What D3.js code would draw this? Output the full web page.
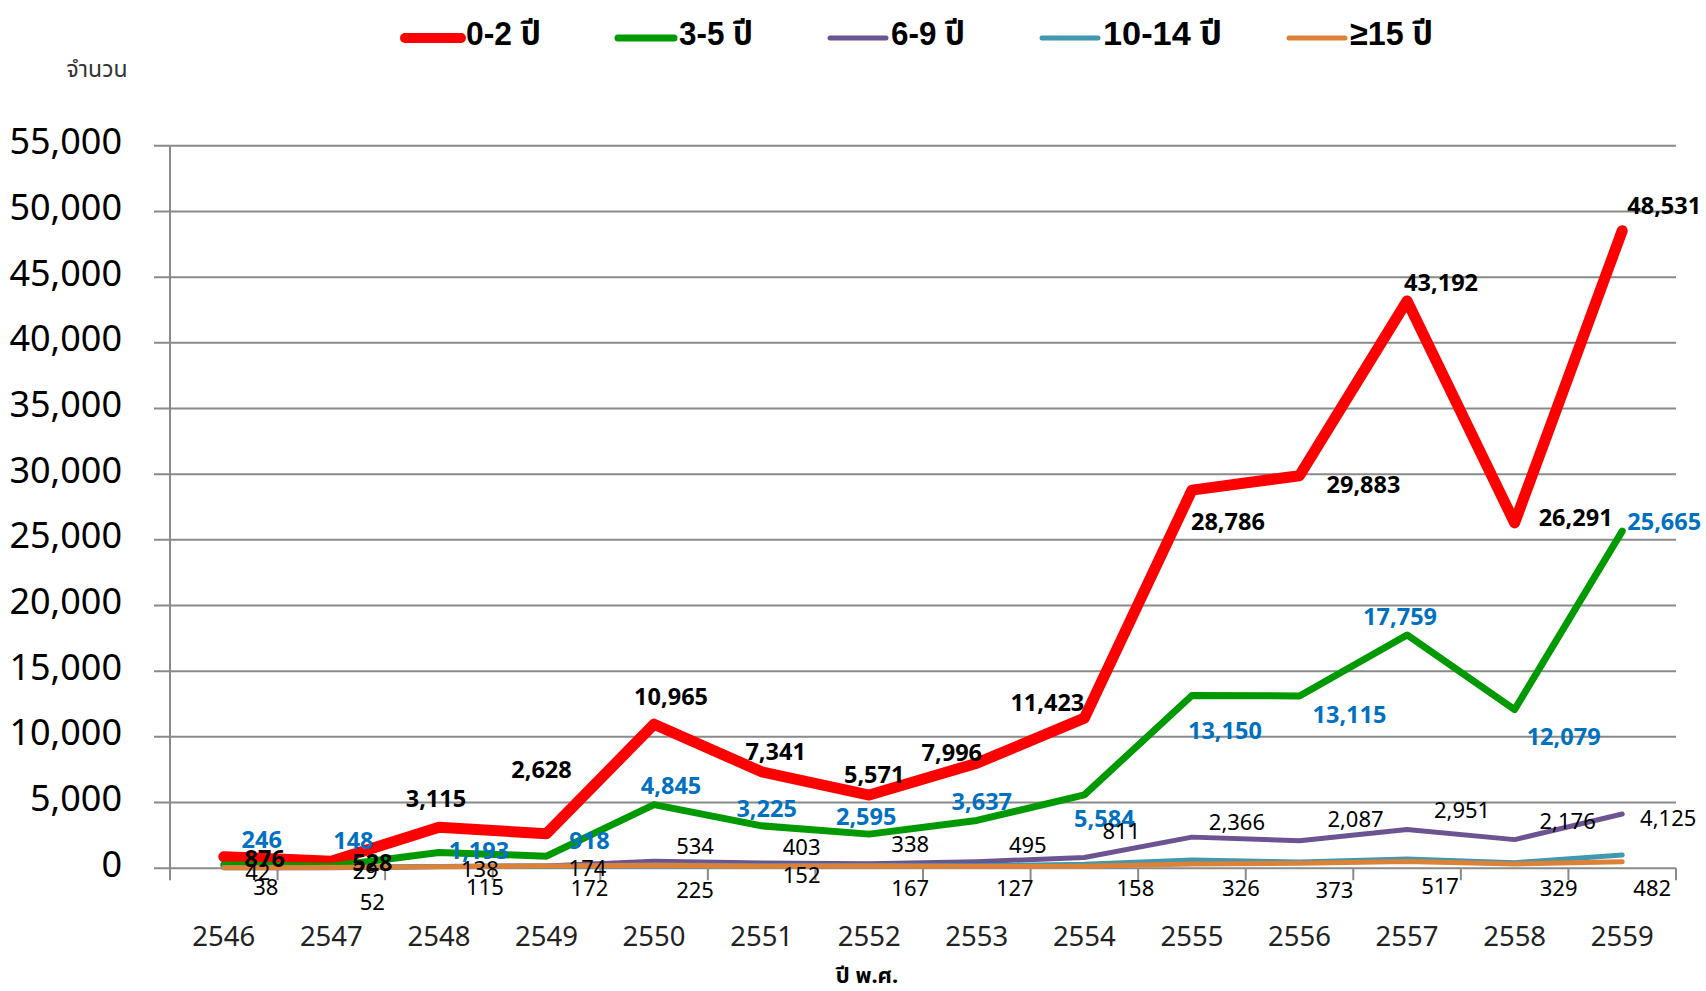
<!DOCTYPE html>
<html>
<head>
<meta charset="utf-8">
<script src="https://cdn.jsdelivr.net/npm/d3@7"></script>
<style>
  html, body { margin: 0; padding: 0; background: #fff; }
  svg { display: block; }
</style>
</head>
<body>
<svg id="chart" width="1706" height="991"></svg>
<script>
// ---- data ----
const years = ['2546','2547','2548','2549','2550','2551','2552','2553','2554','2555','2556','2557','2558','2559'];
const seriesNames = ['0-2 ปี', '3-5 ปี', '6-9 ปี', '10-14 ปี', '≥15 ปี'];
const age0to2   = [876, 528, 3115, 2628, 10965, 7341, 5571, 7996, 11423, 28786, 29883, 43192, 26291, 48531];
const age3to5   = [246, 148, 1193, 918, 4845, 3225, 2595, 3637, 5584, 13150, 13115, 17759, 12079, 25665];
const age6to9   = [42, 29, 138, 174, 534, 403, 338, 495, 811, 2366, 2087, 2951, 2176, 4125];
const age10to14 = [60, 50, 120, 150, 250, 180, 200, 180, 300, 620, 480, 700, 420, 1000];
const age15plus = [38, 52, 115, 172, 225, 152, 167, 127, 158, 326, 373, 517, 329, 482];
const yTicks = [0, 5000, 10000, 15000, 20000, 25000, 30000, 35000, 40000, 45000, 50000, 55000];
const yAxisTitle = 'จำนวน';
const xAxisTitle = 'ปี พ.ศ.';

// label nudges (px, relative to the data point)
const nudge0to2 = [[41,2],[41,2],[-3,-29],[-5,-64],[17,-27],[14,-20],[5,-20],[-25,-10],[-37,-15],[36,32],[64,9],[34,-18],[61,-5],[42,-25]];
const nudge3to5 = [[38,-25],[22,-25],[40,-2],[43,-15],[17,-19],[5,-17],[-3,-17],[5,-19],[20,24],[33,35],[50,19],[-7,-18],[49,27],[42,-9]];
const nudge6to9 = [[34,5],[34,3],[41,3],[41,2],[41,-15],[40,-16],[41,-19],[51,-16],[37,-26],[45,-15],[56,-21],[55,-19],[53,-18],[46,4]];
const nudge15 = [[42,20],[41,35],[46,21],[43,22],[41,25],[40,9],[41,22],[38,22],[51,22],[49,24],[35,27],[33,25],[44,24],[30,26]];

const colors = ['#FF0000', '#009A00', '#6C5493', '#4198AF', '#DC8238'];
const widths = [11, 7, 5, 5, 5];

const series = [
  { name: seriesNames[0], values: age0to2, color: colors[0], w: widths[0], labels: { nudge: nudge0to2, fill: '#000', weight: 'bold', size: 23.5 } },
  { name: seriesNames[1], values: age3to5, color: colors[1], w: widths[1], labels: { nudge: nudge3to5, fill: '#0070C0', weight: 'bold', size: 23.5 } },
  { name: seriesNames[2], values: age6to9, color: colors[2], w: widths[2], labels: { nudge: nudge6to9, fill: '#000', weight: 'normal', size: 22 } },
  { name: seriesNames[3], values: age10to14, color: colors[3], w: widths[3], labels: null },
  { name: seriesNames[4], values: age15plus, color: colors[4], w: widths[4], labels: { nudge: nudge15, fill: '#000', weight: 'normal', size: 22 } }
];

const numFont = '"Noto Sans", "Noto Sans Thai", "Loma", "Garuda", "Tlwg Typo", sans-serif';
const svg = d3.select('#chart');

const x = d3.scaleBand().domain(years).range([170, 1676]).paddingInner(0).paddingOuter(0);
const cx = d => x(d) + x.bandwidth() / 2;
const y = d3.scaleLinear().domain([0, 55000]).range([868.2, 145.8]);
const fmt = d3.format(',');

// gridlines
svg.append('g').selectAll('line').data(yTicks).join('line')
  .attr('x1', 154).attr('x2', 1676)
  .attr('y1', d => y(d)).attr('y2', d => y(d))
  .attr('stroke', '#8a8a8a').attr('stroke-width', 2);

// y axis line
svg.append('line').attr('x1', 170).attr('x2', 170).attr('y1', y(55000)).attr('y2', y(0) + 12)
  .attr('stroke', '#8a8a8a').attr('stroke-width', 2);

// x boundary ticks
svg.append('g').selectAll('line').data(years).join('line')
  .attr('x1', d => x(d) + x.bandwidth()).attr('x2', d => x(d) + x.bandwidth())
  .attr('y1', y(0)).attr('y2', y(0) + 12)
  .attr('stroke', '#8a8a8a').attr('stroke-width', 2);

// y tick labels
svg.append('g').selectAll('text').data(yTicks).join('text')
  .attr('x', 122).attr('y', d => y(d) - 4).attr('dy', '0.35em')
  .attr('text-anchor', 'end')
  .attr('font-family', numFont).attr('font-size', 36).attr('fill', '#000')
  .text(d => fmt(d));

// x tick labels
svg.append('g').selectAll('text').data(years).join('text')
  .attr('x', d => cx(d)).attr('y', 946)
  .attr('text-anchor', 'middle')
  .attr('font-family', numFont).attr('font-size', 27.5).attr('fill', '#222')
  .text(d => d);

// axis titles
svg.append('text').attr('x', 97).attr('y', 77).attr('text-anchor', 'middle')
  .attr('font-family', numFont).attr('font-size', 23).attr('fill', '#333').text(yAxisTitle);
svg.append('text').attr('x', 867).attr('y', 983).attr('text-anchor', 'middle')
  .attr('font-family', numFont).attr('font-size', 22).attr('font-weight', 'bold').attr('fill', '#000').text(xAxisTitle);

// lines
const line = d3.line().x((d, i) => cx(years[i])).y(d => y(d));
svg.append('g').selectAll('path').data(series).join('path')
  .attr('d', s => line(s.values))
  .attr('fill', 'none')
  .attr('stroke', s => s.color).attr('stroke-width', s => s.w)
  .attr('stroke-linecap', 'round').attr('stroke-linejoin', 'round');

// data labels
series.filter(s => s.labels).forEach(s => {
  svg.append('g').selectAll('text').data(s.values).join('text')
    .attr('x', (d, i) => cx(years[i]) + s.labels.nudge[i][0])
    .attr('y', (d, i) => y(d) + s.labels.nudge[i][1])
    .attr('dy', '0.35em')
    .attr('text-anchor', 'middle')
    .attr('font-family', numFont).attr('font-size', s.labels.size)
    .attr('font-weight', s.labels.weight).attr('fill', s.labels.fill)
    .text(d => fmt(d));
});

// legend
const legendX = [405, 618, 830, 1042, 1289];
const legendTextW = [75, 74, 74, 119, 83];
const lg = svg.append('g').selectAll('g').data(series).join('g')
  .attr('transform', (s, i) => `translate(${legendX[i]},38)`);
lg.append('line').attr('x1', 0).attr('x2', 56).attr('y1', 0).attr('y2', 0)
  .attr('stroke', s => s.color).attr('stroke-width', (s, i) => i === 0 ? 10 : (i === 1 ? 7 : 5))
  .attr('stroke-linecap', 'round');
lg.append('text').attr('x', 61).attr('y', -5).attr('dy', '0.35em')
  .attr('font-family', '"Liberation Sans Narrow", "Liberation Sans", "Noto Sans", "Noto Sans Thai", "Loma", "Garuda", sans-serif')
  .attr('font-size', 34).attr('font-weight', 'bold').attr('fill', '#000')
  .attr('textLength', (s, i) => legendTextW[i]).attr('lengthAdjust', 'spacingAndGlyphs')
  .text(s => s.name);
</script>
</body>
</html>
